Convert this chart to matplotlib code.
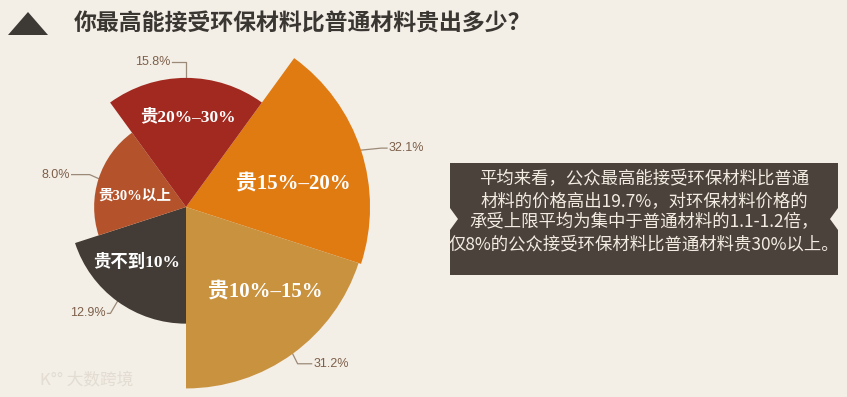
"""Rose pie: how much more people accept to pay for eco materials"""

import numpy as np
import matplotlib
matplotlib.use("Agg")
import matplotlib.pyplot as plt
from matplotlib.patches import Polygon

# section: data
categories = ["贵15%–20%", "贵10%–15%", "贵不到10%", "贵30%以上", "贵20%–30%"]
shares = [32.1, 31.2, 12.9, 8.0, 15.8]
share_labels = ["32.1%", "31.2%", "12.9%", "8.0%", "15.8%"]
title = "你最高能接受环保材料比普通材料贵出多少？"
note_lines = [
    "平均来看，公众最高能接受环保材料比普通",
    "材料的价格高出19.7%，对环保材料价格的",
    "承受上限平均为集中于普通材料的1.1-1.2倍，",
    "仅8%的公众接受环保材料比普通材料贵30%以上。",
]

# section: style
W, H = 847, 397
BG = "#f3eee6"
colors = ["#e07b12", "#c9923f", "#433c36", "#b4532b", "#a2291f"]
start_deg = 54  # first sector starts here, goes clockwise
label_pos = [(12.6, 3.38), (-47.1, 3.57), (-131.7, 2.27), (167.8, 1.61), (89.0, 2.77)]
label_size = [15, 15, 12.5, 10.5, 12.5]
# leader line: offsets (px, y down) of elbow and end from the anchor, text side
leaders = [
    ((20, -2), (26, -2), "left"),
    ((5, 10), (19, 10), "left"),
    ((-7, 12), (-10, 12), "right"),
    ((-9, -4), (-27, -4), "right"),
    ((0, -16), (-14, -16), "right"),
]
CX, CY = 186, 207
PX_PER_UNIT = 32.48  # pixels per sqrt(percent)


def main():
    plt.rcParams["font.family"] = ["Noto Sans CJK SC", "DejaVu Sans"]
    fig = plt.figure(figsize=(W / 100, H / 100), dpi=100, facecolor=BG)

    # section: background layer in pixel coords
    bg = fig.add_axes([0, 0, 1, 1])
    bg.set_xlim(0, W)
    bg.set_ylim(H, 0)
    bg.axis("off")
    bg.set_facecolor(BG)

    bg.add_patch(Polygon([(8, 35), (28, 12), (48, 35)], closed=True,
                         facecolor="#3d3935", edgecolor="none"))
    bg.text(74, 24, title, fontsize=16.5, fontweight="bold", color="#3a3632",
            va="center", ha="left")

    box = [(450, 163), (838, 163), (838, 208), (830, 219), (838, 230),
           (838, 275), (450, 275), (450, 230), (458, 219), (450, 208)]
    bg.add_patch(Polygon(box, closed=True, facecolor="#4a423b", edgecolor="none"))
    for i, line in enumerate(note_lines):
        bg.text(644, 179 + i * 21.7, line, fontsize=12.5, color="#f2ece2",
                ha="center", va="center")

    bg.text(40, 381, "K°° 大数跨境", fontsize=12, color="#e2dcd2",
            ha="left", va="center")

    # section: rose chart
    R = 200
    rmax = R / PX_PER_UNIT
    ax = fig.add_axes([(CX - R) / W, (H - CY - R) / H, 2 * R / W, 2 * R / H],
                      projection="polar")
    ax.set_facecolor("none")
    ax.set_ylim(0, rmax)
    ax.axis("off")

    n = len(shares)
    width = 2 * np.pi / n
    mids = np.deg2rad(start_deg) - width / 2 - width * np.arange(n)
    radii = np.sqrt(shares)
    ax.bar(mids, radii, width=width, bottom=0, color=colors, linewidth=0)

    for (deg, r), name, fs in zip(label_pos, categories, label_size):
        ax.text(np.deg2rad(deg), r, name, fontsize=fs, fontweight="bold",
                color="white", ha="center", va="center",
                family=["Liberation Serif", "Noto Sans CJK SC"])

    # section: leader lines, drawn on the pixel layer
    fig.canvas.draw()
    to_bg = ax.transData + bg.transData.inverted()
    for theta, r, lab, (e1, e2, side) in zip(mids, radii, share_labels, leaders):
        x0, y0 = to_bg.transform((theta, r))
        xs = [x0, x0 + e1[0], x0 + e2[0]]
        ys = [y0, y0 + e1[1], y0 + e2[1]]
        bg.plot(xs, ys, color="#9c8a78", lw=0.9, zorder=3)
        gap = 2 if side == "left" else -2
        bg.text(xs[-1] + gap, ys[-1], lab, fontsize=9, color="#7d604a",
                ha=side, va="center", family=["Liberation Sans", "DejaVu Sans"])

    fig.savefig("out.png", dpi=100, facecolor=BG)
    plt.close(fig)


if __name__ == "__main__":
    main()
